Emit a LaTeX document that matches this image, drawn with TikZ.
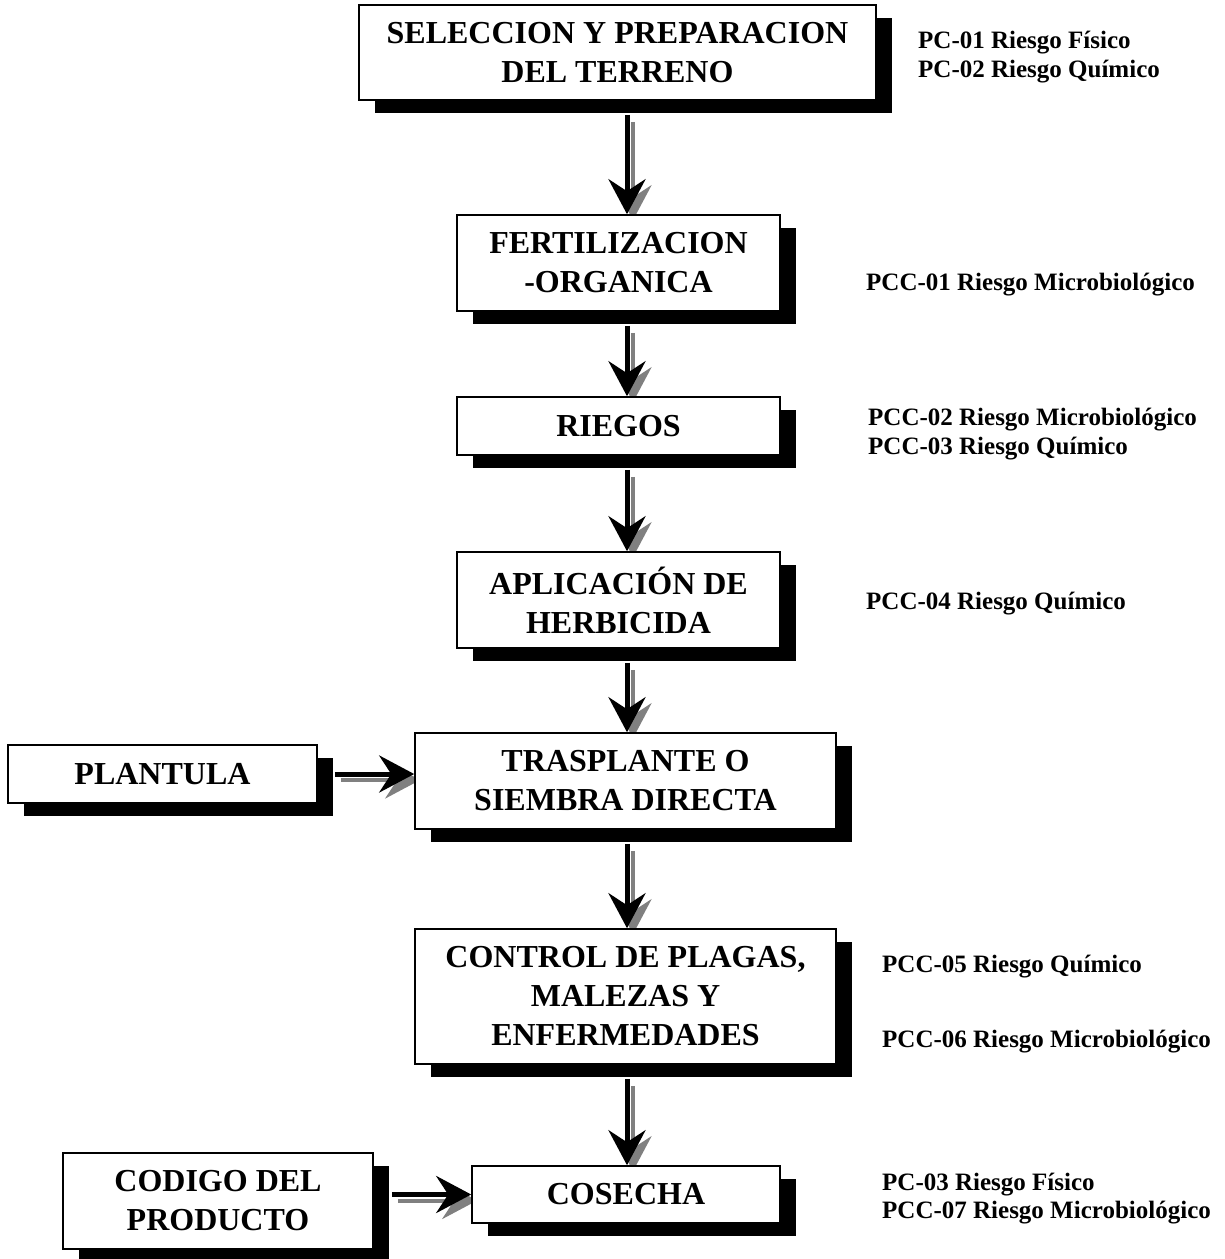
\documentclass[tikz,border=0pt]{standalone}
\usepackage{fontspec}
\setmainfont{Liberation Serif}
\usetikzlibrary{arrows.meta, shadows}
\pgfdeclarelayer{back}
\pgfsetlayers{back,main}

\begin{document}
\begin{tikzpicture}[x=1pt, y=-1pt,
    stage/.style={draw, line width=1.6pt, fill=white, align=center, inner sep=0pt,
        font=\fontsize{32}{39}\selectfont\bfseries,
        drop shadow={shadow xshift=16pt, shadow yshift=-13pt, fill=black, opacity=1}},
    pc/.style={anchor=base west, inner sep=0pt, font=\fontsize{25}{29}\selectfont\bfseries},
    flow/.style={line width=5pt, -{Stealth[length=35pt, width=37pt, inset=12pt]}},
    flowshade/.style={flow, draw=gray, line width=4pt}]
    \useasboundingbox (0,0) rectangle (1225,1259);
    \coordinate (axis) at (627,0);

    \node[stage, minimum width=517pt, minimum height=95pt] (sel) at (617.5,52.5) {SELECCION Y PREPARACION\\DEL TERRENO};
    \node[stage, minimum width=323pt, minimum height=96pt] (fert) at (618.5,263) {FERTILIZACION\\-ORGANICA};
    \node[stage, minimum width=323pt, minimum height=58pt] (rieg) at (618.5,426) {RIEGOS};
    \node[stage, minimum width=323pt, minimum height=96pt] (apl) at (618.5,600) {APLICACIÓN DE\\HERBICIDA};
    \node[stage, minimum width=421pt, minimum height=96pt] (tras) at (625.5,781) {TRASPLANTE O\\SIEMBRA DIRECTA};
    \node[stage, minimum width=309pt, minimum height=58pt] (plant) at (162.5,774) {PLANTULA};
    \node[stage, minimum width=421pt, minimum height=135pt] (ctrl) at (625.5,996.5) {CONTROL DE PLAGAS,\\MALEZAS Y\\ENFERMEDADES};
    \node[stage, minimum width=308pt, minimum height=57pt] (cos) at (626,1194.5) {COSECHA};
    \node[stage, minimum width=310pt, minimum height=96pt] (cod) at (218,1201) {CODIGO DEL\\PRODUCTO};

    \node[pc] (pc1) at (918,48) {PC-01 Riesgo Físico};
    \node[pc] (pc2) at (918,77) {PC-02 Riesgo Químico};
    \node[pc] (pcc1) at (866,290) {PCC-01 Riesgo Microbiológico};
    \node[pc] (pcc2) at (868,425) {PCC-02 Riesgo Microbiológico};
    \node[pc] (pcc3) at (868,454) {PCC-03 Riesgo Químico};
    \node[pc] (pcc4) at (866,609) {PCC-04 Riesgo Químico};
    \node[pc] (pcc5) at (882,972) {PCC-05 Riesgo Químico};
    \node[pc] (pcc6) at (882,1047) {PCC-06 Riesgo Microbiológico};
    \node[pc] (pc3) at (882,1190) {PC-03 Riesgo Físico};
    \node[pc] (pcc7) at (882,1218) {PCC-07 Riesgo Microbiológico};

    \begin{pgfonlayer}{back}
    \foreach \a/\b in {sel/fert, fert/rieg, rieg/apl, apl/tras, tras/ctrl, ctrl/cos} {
        \draw[flowshade] ([xshift=6pt, yshift=-21pt]\a.south -| axis) -- ([xshift=6pt, yshift=-6pt]\b.north -| axis);
        \draw[flow] ([yshift=-14pt]\a.south -| axis) -- (\b.north -| axis);
    }
    \draw[flowshade] ([xshift=23pt, yshift=-6pt]plant.east) -- ([xshift=6pt, yshift=-6pt]plant.east -| tras.west);
    \draw[flow] ([xshift=17pt]plant.east) -- (plant.east -| tras.west);
    \draw[flowshade] ([xshift=24pt, yshift=-6pt]cod.east |- cos.west) -- ([xshift=6pt, yshift=-6pt]cos.west);
    \draw[flow] ([xshift=18pt]cod.east |- cos.west) -- (cos.west);
    \end{pgfonlayer}
\end{tikzpicture}
\end{document}
